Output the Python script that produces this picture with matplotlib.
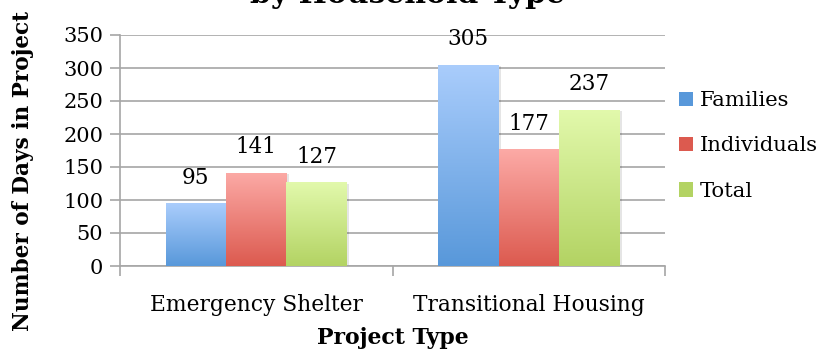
import numpy as np
import matplotlib.pyplot as plt
from matplotlib.colors import LinearSegmentedColormap
from matplotlib.patches import Rectangle

categories = ["Emergency Shelter", "Transitional Housing"]
series = ["Families", "Individuals", "Total"]
families = [95, 305]
individuals = [141, 177]
total = [127, 237]
yticks = [0, 50, 100, 150, 200, 250, 300, 350]

# top / bottom colours of each series gradient
grad = {
    "Families": ("#aacdfc", "#5898da"),
    "Individuals": ("#fcaaa6", "#dc5a4f"),
    "Total": ("#e2f9ac", "#b3d363"),
}

plt.rcParams["font.family"] = ["DejaVu Serif"]

fig = plt.figure(figsize=(8.22, 3.52), dpi=100)
ax = fig.add_axes([120 / 822, 1 - 266 / 352, 545 / 822, 231 / 352])

x = np.arange(len(categories))
width = 0.222
values = [families, individuals, total]
grid_c = "#a6a6a6"

ax.set_xlim(-0.5, 1.5)
ax.set_ylim(0, 350)

for i, (name, vals) in enumerate(zip(series, values)):
    offs = (i - 1) * width
    bars = ax.bar(x + offs, vals, width, label=name, color=grad[name][1], zorder=3)
    cmap = LinearSegmentedColormap.from_list(name, [grad[name][1], grad[name][0]])
    for b, v in zip(bars, vals):
        bx, bw = b.get_x(), b.get_width()
        # soft drop shadow
        ax.add_patch(Rectangle((bx + 0.008, 0), bw, v - 2, facecolor="#000000",
                               alpha=0.10, zorder=2, linewidth=0))
        img = ax.imshow(np.linspace(0, 1, 256).reshape(-1, 1), cmap=cmap,
                        extent=[bx, bx + bw, 0, v], origin="lower",
                        aspect="auto", zorder=3.5)
        img.set_clip_path(b)
        b.set_facecolor("none")
        ax.annotate(str(v), (bx + bw / 2, v), xytext=(0, 14), textcoords="offset points",
                    ha="center", va="baseline", fontsize=15.5, zorder=5)

ax.set_xlim(-0.5, 1.5)
ax.set_ylim(0, 350)
ax.set_yticks(yticks)
ax.set_yticklabels([str(t) for t in yticks], fontsize=15)
ax.yaxis.grid(True, color=grid_c, linewidth=1.2, zorder=0)
ax.set_axisbelow(True)
ax.set_xticks(x)
ax.set_xticklabels(categories, fontsize=15.7)
ax.set_xticks([-0.5, 0.5, 1.5], minor=True)
ax.tick_params(axis="x", which="major", length=0, pad=20)
ax.tick_params(axis="x", which="minor", length=7, color=grid_c, width=1.2)
ax.tick_params(axis="y", length=7, color=grid_c, width=1.2, pad=5)

for s in ["top", "right"]:
    ax.spines[s].set_visible(False)
for s in ["left", "bottom"]:
    ax.spines[s].set_color(grid_c)
    ax.spines[s].set_linewidth(1.2)

ax.set_xlabel("Project Type", fontsize=15.8, fontweight="bold")
ax.xaxis.set_label_coords((393 - 120) / 545, -(338 - 266) / 231)
ax.xaxis.label.set_va("center")
ax.set_ylabel("Number of Days in Project", fontsize=15.6, fontweight="bold")
ax.yaxis.set_label_coords((23 - 120) / 545, (266 - 171) / 231)
ax.yaxis.label.set_va("center")

# legend
handles = [Rectangle((0, 0), 1, 1, facecolor=grad[n][1], edgecolor="none") for n in series]
leg = fig.legend(handles, series, loc="center left", bbox_to_anchor=(671 / 822, 1 - 146 / 352),
                 frameon=False, fontsize=15.2, handlelength=0.65, handleheight=0.65,
                 handletextpad=0.3, labelspacing=1.25, borderaxespad=0)

fig.text(407 / 822, 1 - 3 / 352, "by Household Type", ha="center", va="baseline",
         fontsize=21.5, fontweight="bold")

fig.savefig("out.png", dpi=100)
